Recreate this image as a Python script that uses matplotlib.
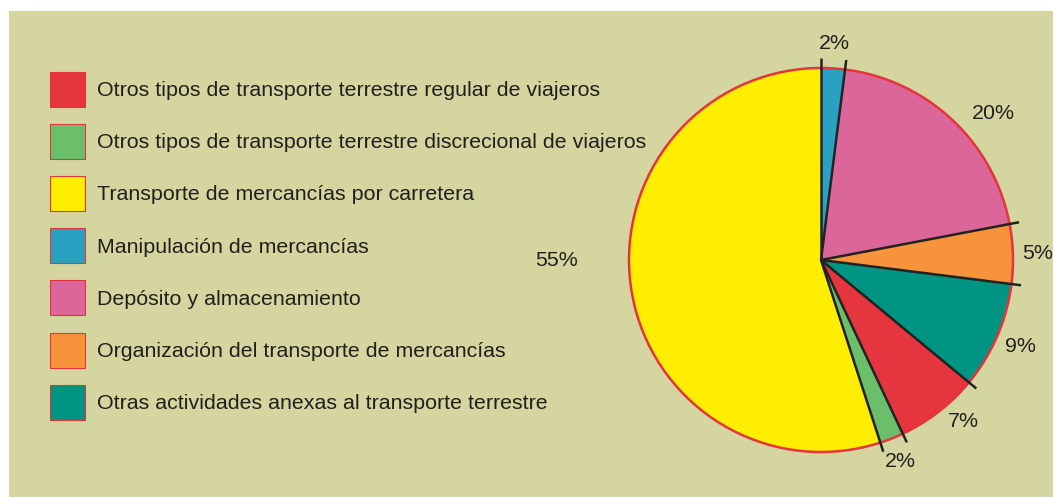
import numpy as np
import matplotlib
matplotlib.use("Agg")
import matplotlib.pyplot as plt
from matplotlib.patches import Patch, Rectangle, Circle

plt.rcParams['font.family'] = ['Liberation Sans', 'DejaVu Sans']

# datos (orden de la leyenda)
categorias = [
    "Otros tipos de transporte terrestre regular de viajeros",
    "Otros tipos de transporte terrestre discrecional de viajeros",
    "Transporte de mercancías por carretera",
    "Manipulación de mercancías",
    "Depósito y almacenamiento",
    "Organización del transporte de mercancías",
    "Otras actividades anexas al transporte terrestre",
]
porcentajes = [7, 2, 55, 2, 20, 5, 9]
colores = ["#e5353e", "#6bbf6a", "#ffee00", "#2aa1c0", "#da669a", "#f6933b", "#009482"]
# orden de los sectores, en el sentido de las agujas desde arriba
orden_tarta = [3, 4, 5, 6, 0, 1, 2]

fondo = "#d4d59f"
texto = "#231f20"
borde = "#e5343d"

W, H = 1053, 497
fig = plt.figure(figsize=(W / 100, H / 100), dpi=100, facecolor="white")

# panel de fondo
bg = fig.add_axes([0, 0, 1, 1])
bg.set_xlim(0, W)
bg.set_ylim(H, 0)
bg.axis("off")
bg.add_patch(Rectangle((9, 11), W - 9, H - 11, facecolor=fondo, edgecolor="none"))

# tarta
R = 192
cx, cy = 821, 260
half = 1.1 * R
ax = fig.add_axes([(cx - half) / W, (H - cy - half) / H, 2 * half / W, 2 * half / H])

vals = [porcentajes[i] for i in orden_tarta]
cols = [colores[i] for i in orden_tarta]
wedges, txts = ax.pie(vals, colors=cols, startangle=90, counterclock=False,
                      labels=[f"{v}%" for v in vals], labeldistance=1.13,
                      wedgeprops=dict(edgecolor="none"),
                      textprops=dict(fontsize=15.4, color=texto))
ax.set_xlim(-1.1, 1.1)
ax.set_ylim(-1.1, 1.1)
ax.set_aspect("equal")
ax.axis("off")
for t in txts:
    t.set_ha("center")
    t.set_va("center")
    t.set_clip_on(False)
# ajustes de etiquetas
txts[1].set_position((0.90, 0.765))
txts[4].set_position((0.74, -0.84))
txts[6].set_position((-1.375, 0.0))

ax.add_patch(Circle((0, 0), 1, facecolor="none", edgecolor=borde, lw=1.8, zorder=3))

# líneas de separación
for w in wedges:
    a = np.deg2rad(w.theta1)
    ax.plot([0, 1.05 * np.cos(a)], [0, 1.05 * np.sin(a)], color="#222222",
            lw=1.8, solid_capstyle="butt", zorder=4, clip_on=False)

# leyenda
handles = [Patch(facecolor=c, edgecolor=borde, lw=0.8) for c in colores]
fig.legend(handles, categorias, loc="upper left",
           bbox_to_anchor=(50 / W, 1 - 72 / H), frameon=False,
           fontsize=15.4, labelcolor=texto, borderpad=0, borderaxespad=0,
           handlelength=1.64, handleheight=2.14, handletextpad=0.55,
           labelspacing=0.8)

fig.savefig("out.png", dpi=100, facecolor="white")
